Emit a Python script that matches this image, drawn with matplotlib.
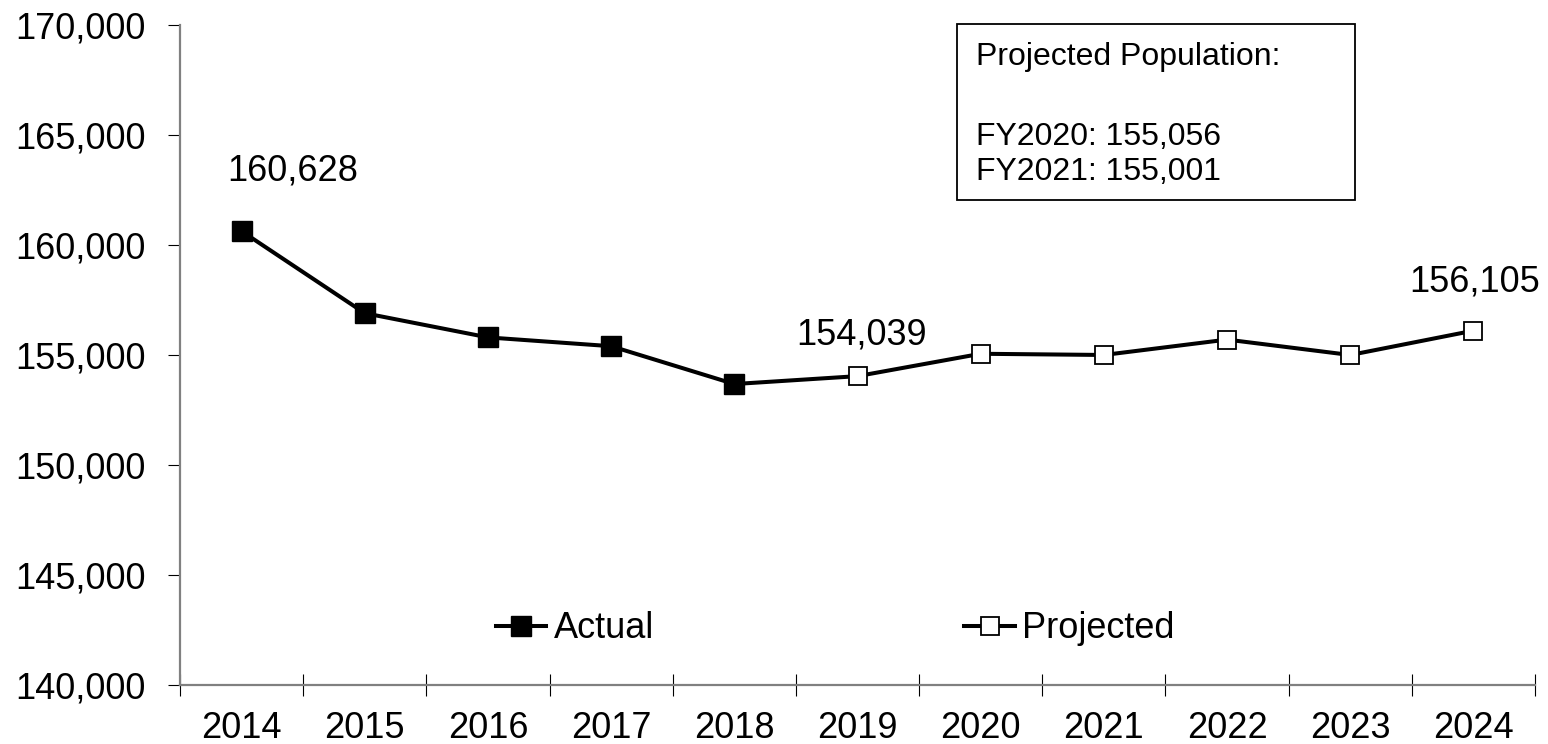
import matplotlib
matplotlib.use("Agg")
import matplotlib.pyplot as plt
from matplotlib.ticker import FuncFormatter, FixedLocator
from matplotlib.patches import Rectangle

plt.rcParams['font.family'] = ['Liberation Sans', 'DejaVu Sans']

years = ["2014", "2015", "2016", "2017", "2018", "2019", "2020", "2021", "2022", "2023", "2024"]
actual = [160628, 156900, 155800, 155400, 153680]
projected = [154039, 155056, 155001, 155700, 155000, 156105]
label_idx = [0, 5, 10]
label_text = ["160,628", "154,039", "156,105"]
box_title = "Projected Population:"
box_lines = ["FY2020: 155,056", "FY2021: 155,001"]

fig = plt.figure(figsize=(15.48, 7.44), dpi=100)
ax = fig.add_axes([180/1548, 1-685/744, (1535-180)/1548, (685-25)/744])

xa = list(range(len(actual)))
ax.plot(xa, actual, color='black', lw=2.9, marker='s', ms=14, mfc='black',
        mec='black', mew=1, label='Actual', zorder=3)
xp = list(range(len(actual) - 1, len(years)))
yp = [actual[-1]] + projected
ax.plot(xp, yp, color='black', lw=2.9, marker='s', ms=13, mfc='white',
        mec='black', mew=1.3, markevery=list(range(1, len(yp))), zorder=2)
ax.plot([], [], color='black', lw=2.9, marker='s', ms=13, mfc='white',
        mec='black', mew=1.3, label='Projected')

allvals = actual + projected
offsets = [(37, 43), (3, 29.5), (1, 35)]
for i, t, off in zip(label_idx, label_text, offsets):
    ax.annotate(t, (i, allvals[i]), xytext=off, textcoords='offset points',
                ha='center', va='center', fontsize=26)

ax.set_xlim(-0.5, len(years) - 0.5)
ax.set_ylim(140000, 170000)
ax.set_yticks(range(140000, 170001, 5000))
ax.yaxis.set_major_formatter(FuncFormatter(lambda v, p: f"{int(v):,}"))

ax.set_xticks(range(len(years)))
ax.set_xticklabels(years)
ax.xaxis.set_minor_locator(FixedLocator([i - 0.5 for i in range(len(years) + 1)]))
ax.tick_params(axis='x', which='major', length=0, labelsize=26, pad=19)
ax.tick_params(axis='x', which='minor', direction='inout', length=16, width=0.8, color='black')
ax.tick_params(axis='y', which='major', direction='out', length=9, width=0.8,
               color='black', labelsize=26, pad=16)

for s in ['top', 'right']:
    ax.spines[s].set_visible(False)
for s in ['left', 'bottom']:
    ax.spines[s].set_color('#808080')
    ax.spines[s].set_linewidth(1.6)

ax.legend(loc='center left', bbox_to_anchor=((495-180)/1355 - 0.010, (685-629)/660),
          ncol=2, frameon=False, fontsize=26, handlelength=1.4,
          handletextpad=0.2, columnspacing=8.6, borderaxespad=0)

bx0, by0, bx1, by1 = 957, 24, 1355, 200
rect = Rectangle((bx0/1548, 1-by1/744), (bx1-bx0)/1548, (by1-by0)/744,
                 transform=fig.transFigure, fill=True, facecolor='white',
                 edgecolor='black', lw=1.3, zorder=5)
fig.patches.append(rect)
fig.text(976/1548, 1-57/744, box_title, fontsize=23, va='center', ha='left', zorder=6)
fig.text(976/1548, 1-137/744, box_lines[0], fontsize=23, va='center', ha='left', zorder=6)
fig.text(976/1548, 1-172/744, box_lines[1], fontsize=23, va='center', ha='left', zorder=6)

fig.savefig("out.png", dpi=100)
